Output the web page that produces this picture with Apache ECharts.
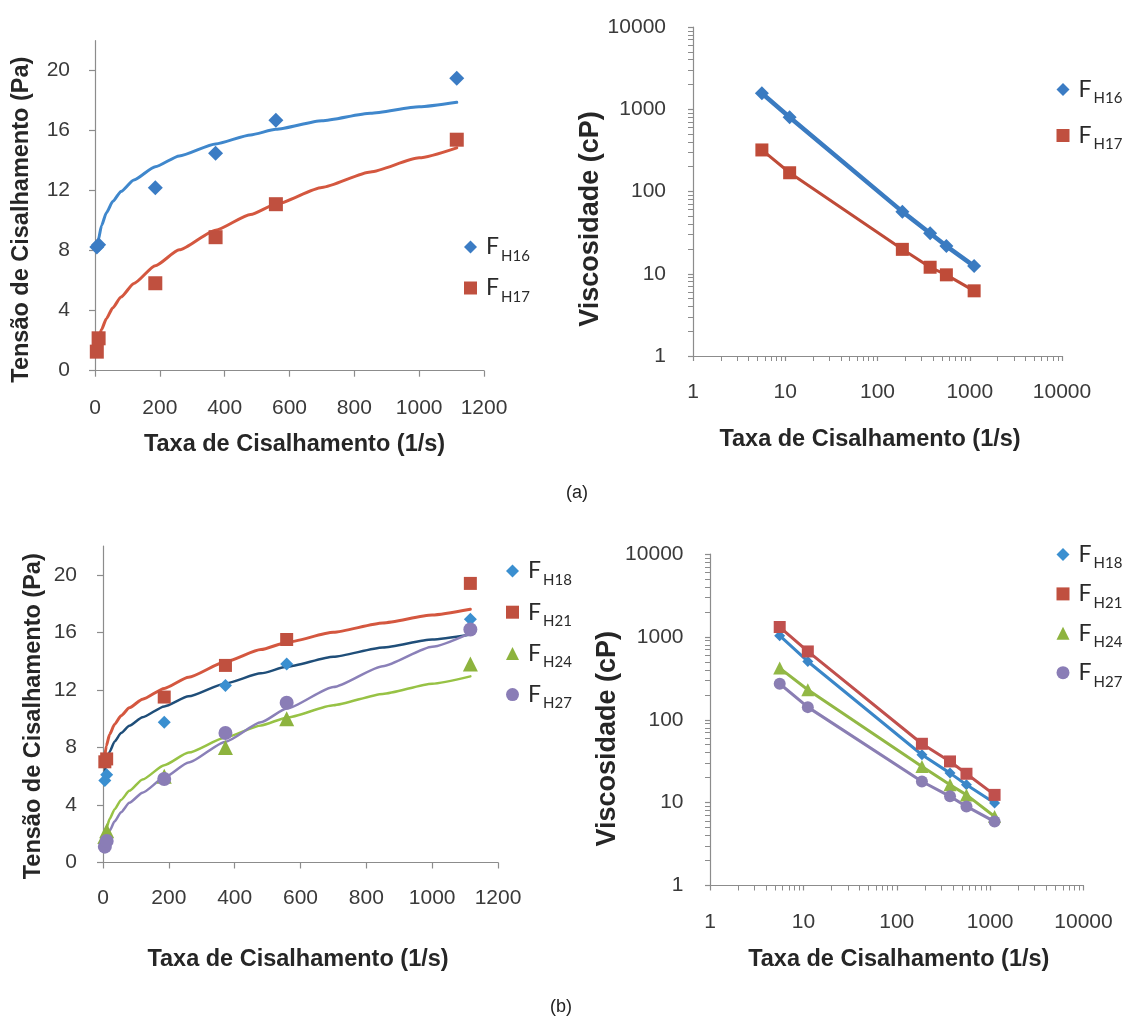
<!DOCTYPE html>
<html>
<head>
<meta charset="utf-8">
<script src="https://cdn.jsdelivr.net/npm/echarts@6/dist/echarts.min.js"></script>
<style>
  html, body { margin: 0; padding: 0; background: #ffffff; }
  #chart { width: 1129px; height: 1022px; }
</style>
</head>
<body>
<div id="chart"></div>
<script>
// Shear rates of the viscometer readings (1/s)
const shearRate = [5.58, 11.16, 186, 372, 558, 1116];

// (a) shear stress (Pa)
const stressFH16 = [8.25, 8.4, 12.2, 14.5, 16.7, 19.5];
const stressFH17 = [1.27, 2.16, 5.83, 8.9, 11.1, 15.4];
// (a) viscosity (cP)
const viscFH16 = [1563, 798, 56.9, 31.0, 21.7, 12.4];
const viscFH17 = [320, 169, 19.8, 12.0, 9.7, 6.2];

// (b) shear stress (Pa)
const stressFH18 = [5.7, 6.1, 9.75, 12.3, 13.8, 16.9];
const stressFH21 = [7.0, 7.2, 11.5, 13.7, 15.5, 19.4];
const stressFH24 = [1.8, 2.2, 6.0, 8.0, 10.0, 13.8];
const stressFH27 = [1.1, 1.5, 5.8, 9.0, 11.1, 16.2];
// (b) viscosity (cP)
const viscFH18 = [1033, 505, 37.8, 22.7, 16.4, 9.9];
const viscFH21 = [1315, 667, 51.3, 31.4, 22.3, 12.4];
const viscFH24 = [420, 230, 27.3, 16.4, 12.4, 6.8];
const viscFH27 = [272, 142, 18.0, 11.9, 9.0, 5.9];

// Power-law trend curves of the flow curves, sampled along the shear rate
const trendRate = [5.58, 10, 20, 35, 55, 80, 120, 186, 260, 372, 480, 558, 700, 850, 1000, 1116];
const trendFH16 = [7.95, 8.70, 9.67, 10.53, 11.29, 11.95, 12.72, 13.60, 14.32, 15.12, 15.72, 16.09, 16.66, 17.16, 17.59, 17.89];
const trendFH17 = [1.61, 2.05, 2.74, 3.47, 4.20, 4.91, 5.82, 7.00, 8.06, 9.37, 10.42, 11.10, 12.22, 13.25, 14.19, 14.86];
const trendFH18 = [6.3, 6.9, 7.7, 8.4, 9.0, 9.5, 10.1, 10.85, 11.55, 12.45, 13.15, 13.6, 14.3, 14.95, 15.5, 15.85];
const trendFH21 = [7.4, 8.1, 8.9, 9.6, 10.2, 10.75, 11.35, 12.1, 12.88, 13.95, 14.8, 15.3, 16.0, 16.65, 17.2, 17.6];
const trendFH24 = [1.90, 2.35, 3.02, 3.69, 4.35, 4.98, 5.77, 6.76, 7.64, 8.69, 9.53, 10.07, 10.93, 11.72, 12.43, 12.94];
const trendFH27 = [1.3, 1.6, 2.2, 2.85, 3.5, 4.15, 4.85, 5.9, 6.95, 8.4, 9.75, 10.7, 12.2, 13.65, 15.0, 15.95];

// Tick values of the linear axes
const stressTicks = [0, 4, 8, 12, 16, 20];
const rateTicks = [0, 200, 400, 600, 800, 1000, 1200];

// Axis titles
const rateTitle = 'Taxa de Cisalhamento (1/s)';
const stressTitle = 'Tensão de Cisalhamento (Pa)';
const viscTitle = 'Viscosidade (cP)';

const pairs = (xs, ys) => xs.map((x, i) => [x, ys[i]]);

const AXIS_GRAY = '#8c8c8c';
const LABEL_COLOR = '#3a3a3a';
const TITLE_COLOR = '#262626';
const NUM_FONT = 'Liberation Sans, Arial, sans-serif';

function baseAxis(gridIndex, extra) {
  return Object.assign({
    gridIndex,
    axisLine: { show: true, onZero: false, lineStyle: { color: AXIS_GRAY, width: 1.2 } },
    axisTick: { show: true, length: 6, lineStyle: { color: AXIS_GRAY, width: 1.2 } },
    splitLine: { show: false },
    axisLabel: { fontFamily: NUM_FONT, fontSize: 21, color: LABEL_COLOR, formatter: v => String(v) },
    nameLocation: 'middle',
    nameTextStyle: { fontFamily: NUM_FONT, fontWeight: 'bold', fontSize: 23.5, color: TITLE_COLOR }
  }, extra);
}

function linearRateAxis(gridIndex, margin, gap, pad) {
  const ax = baseAxis(gridIndex, { type: 'value', min: 0, max: 1200, interval: 200, name: rateTitle, nameGap: gap });
  ax.axisLabel.margin = margin;
  ax.axisTick.customValues = rateTicks;
  ax.axisLabel.customValues = rateTicks;
  ax.nameTextStyle.padding = pad;
  return ax;
}
function stressAxis(gridIndex, margin, gap, pad) {
  const ax = baseAxis(gridIndex, { type: 'value', min: 0, max: 22, name: stressTitle, nameGap: gap });
  ax.axisLabel.margin = margin;
  ax.axisTick.customValues = stressTicks;
  ax.axisLabel.customValues = stressTicks;
  ax.nameTextStyle.padding = pad;
  return ax;
}
function logAxis(gridIndex, margin, title, gap, pad, size) {
  const ax = baseAxis(gridIndex, {
    type: 'log', logBase: 10, min: 1, max: 10000, splitNumber: 4,
    name: title, nameGap: gap,
    minorTick: { show: true, splitNumber: 9, length: 5, lineStyle: { color: AXIS_GRAY, width: 1 } },
    minorSplitLine: { show: false }
  });
  ax.axisTick.length = 5;
  ax.axisLabel.margin = margin;
  ax.nameTextStyle.padding = pad;
  if (size) ax.nameTextStyle.fontSize = size;
  return ax;
}

const C = {
  blue: '#3b7cc4', blueLine: '#3f87cc', red: '#c0503f', redLine: '#d4573f',
  lightBlue: '#3a8fd0', navy: '#1f4e79', green: '#8db33e', greenLine: '#97c245',
  purple: '#8a7db6', purpleLine: '#8a80b8'
};

function scatter(name, xi, ys, symbol, size, color) {
  return { type: 'scatter', name, xAxisIndex: xi, yAxisIndex: xi, data: pairs(shearRate, ys),
    symbol, symbolSize: size, itemStyle: { color, opacity: 1 }, z: 4 };
}
function trend(name, xi, ys, color, width) {
  return { type: 'line', name, xAxisIndex: xi, yAxisIndex: xi, data: pairs(trendRate, ys),
    smooth: 0.2, smoothMonotone: 'x', showSymbol: false, silent: true,
    lineStyle: { color, width, cap: 'round', join: 'round' }, itemStyle: { color }, z: 3 };
}
function logLine(name, xi, ys, symbol, size, color, width) {
  return { type: 'line', name, xAxisIndex: xi, yAxisIndex: xi, data: pairs(shearRate, ys),
    symbol, symbolSize: size, showAllSymbol: true, lineStyle: { color, width },
    itemStyle: { color }, z: 4 };
}

// Legend label "F" with the sample code as a lowered subscript
const legendRich = {
  f: { fontFamily: 'Lato, sans-serif', fontSize: 23, color: '#2a2a2a', lineHeight: 26, padding: [0, 0, 0, 4] },
  s: { fontFamily: 'Lato, sans-serif', fontSize: 15, color: '#2a2a2a', lineHeight: 10, height: 8,
       verticalAlign: 'bottom', padding: [0, 0, 0, 2] }
};
function legend(items, left, top, gap) {
  return {
    orient: 'vertical', left, top, itemGap: gap, itemWidth: 13, itemHeight: 13,
    selectedMode: false,
    data: items.map(([name, icon]) => ({ name, icon })),
    formatter: n => '{f|F}{s|' + n.slice(1) + '}',
    textStyle: { rich: legendRich }
  };
}

const option = {
  backgroundColor: '#ffffff',
  animation: false,
  grid: [
    { left: 95, top: 40.7, width: 389, height: 330, outerBoundsMode: 'none', containLabel: false },
    { left: 693, top: 27, width: 369, height: 329, outerBoundsMode: 'none', containLabel: false },
    { left: 103, top: 546, width: 395, height: 316.5, outerBoundsMode: 'none', containLabel: false },
    { left: 710, top: 554, width: 373.5, height: 331.5, outerBoundsMode: 'none', containLabel: false }
  ],
  xAxis: [
    linearRateAxis(0, 27, 62, [0, 0, 0, 10]),
    logAxis(1, 25.5, rateTitle, 72, [0, 15, 0, 0]),
    linearRateAxis(2, 25, 85.5, [0, 5, 0, 0]),
    logAxis(3, 26, rateTitle, 62, [0, 0, 0, 4])
  ],
  yAxis: [
    stressAxis(0, 25, 61, [0, 28, 0, 0]),
    logAxis(1, 27, viscTitle, 84.7, [0, 55, 0, 0], 27),
    stressAxis(2, 26, 57, [0, 24, 0, 0]),
    logAxis(3, 26.5, viscTitle, 79.5, [0, 38, 0, 0], 27)
  ],
  legend: [
    legend([['FH16', 'diamond'], ['FH17', 'rect']], 459, 230.5, 13),
    legend([['FH16', 'diamond'], ['FH17', 'rect']], 1051.5, 73, 18),
    legend([['FH18', 'diamond'], ['FH21', 'rect'], ['FH24', 'triangle'], ['FH27', 'circle']], 501, 554.5, 13.2),
    legend([['FH18', 'diamond'], ['FH21', 'rect'], ['FH24', 'triangle'], ['FH27', 'circle']], 1051.5, 538, 11.4)
  ],
  series: [
    // (a) flow curves
    trend('FH16 ajuste', 0, trendFH16, C.blueLine, 3),
    trend('FH17 ajuste', 0, trendFH17, C.redLine, 3),
    scatter('FH16', 0, stressFH16, 'diamond', 15, C.blue),
    scatter('FH17', 0, stressFH17, 'rect', 14, C.red),
    // (a) viscosity curves
    logLine('FH16', 1, viscFH16, 'diamond', 14, '#3a7bc1', 4.5),
    logLine('FH17', 1, viscFH17, 'rect', 13, '#bf4b38', 3),
    // (b) flow curves
    trend('FH18 ajuste', 2, trendFH18, C.navy, 2.5),
    trend('FH21 ajuste', 2, trendFH21, C.redLine, 3),
    trend('FH24 ajuste', 2, trendFH24, C.greenLine, 2.5),
    trend('FH27 ajuste', 2, trendFH27, C.purpleLine, 2.5),
    scatter('FH18', 2, stressFH18, 'diamond', 13, C.lightBlue),
    scatter('FH21', 2, stressFH21, 'rect', 13, C.red),
    scatter('FH24', 2, stressFH24, 'triangle', 15, C.green),
    scatter('FH27', 2, stressFH27, 'circle', 14, C.purple),
    // (b) viscosity curves
    logLine('FH18', 3, viscFH18, 'diamond', 11, '#3a86c8', 3),
    logLine('FH21', 3, viscFH21, 'rect', 12, '#c0504d', 3),
    logLine('FH24', 3, viscFH24, 'triangle', 13, '#92b845', 3),
    logLine('FH27', 3, viscFH27, 'circle', 12, '#8a7eb3', 3)
  ],
  graphic: [
    { type: 'text', left: 566, top: 484, style: { text: '(a)', font: '18px Liberation Sans, Arial, sans-serif', fill: '#222' } },
    { type: 'text', left: 550, top: 998, style: { text: '(b)', font: '18px Liberation Sans, Arial, sans-serif', fill: '#222' } }
  ]
};

const chart = echarts.init(document.getElementById('chart'), null, { renderer: 'canvas' });
chart.setOption(option);
</script>
</body>
</html>
